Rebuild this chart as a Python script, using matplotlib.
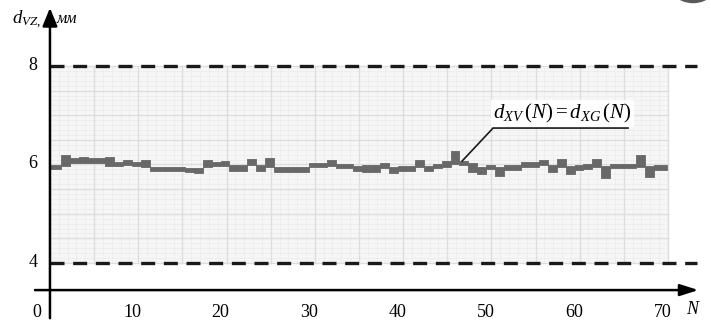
import numpy as np
import matplotlib
matplotlib.use('agg')
import matplotlib.pyplot as plt
from matplotlib.patches import Rectangle, Ellipse

plt.rcParams['font.family'] = ['Liberation Serif', 'DejaVu Serif']
plt.rcParams['mathtext.fontset'] = 'custom'
plt.rcParams['mathtext.rm'] = 'Liberation Serif'
plt.rcParams['mathtext.it'] = 'Liberation Serif:italic'

# data: band per step N (upper / lower edge, mm)
upper = [5.99, 5.99, 6.19, 6.13, 6.15, 6.13, 6.13, 6.15, 6.05, 6.09,
         6.05, 6.09, 5.95, 5.95, 5.95, 5.95, 5.93, 5.93, 6.09, 6.05,
         6.07, 5.99, 5.99, 6.11, 5.99, 6.13, 5.95, 5.95, 5.95, 5.95,
         6.03, 6.03, 6.09, 6.01, 6.01, 5.97, 5.99, 5.99, 6.03, 5.95,
         5.97, 5.97, 6.09, 5.97, 6.01, 6.07, 6.27, 6.07, 6.03, 5.95,
         5.99, 5.95, 5.99, 5.99, 6.05, 6.05, 6.09, 5.99, 6.11, 5.97,
         5.99, 6.01, 6.11, 5.97, 6.01, 6.01, 6.01, 6.19, 5.97, 5.99]
lower = [5.91, 5.91, 5.97, 6.03, 6.03, 6.03, 6.03, 5.97, 5.97, 5.99,
         5.97, 5.95, 5.87, 5.87, 5.87, 5.87, 5.85, 5.83, 5.95, 5.97,
         5.97, 5.87, 5.87, 5.99, 5.87, 5.95, 5.85, 5.85, 5.85, 5.85,
         5.95, 5.95, 5.97, 5.93, 5.93, 5.87, 5.85, 5.85, 5.93, 5.83,
         5.87, 5.87, 5.95, 5.87, 5.93, 5.95, 6.01, 5.99, 5.85, 5.81,
         5.91, 5.77, 5.89, 5.89, 5.95, 5.95, 5.99, 5.85, 5.95, 5.81,
         5.89, 5.91, 5.95, 5.73, 5.93, 5.93, 5.93, 5.95, 5.75, 5.89]
xticks = [10, 20, 30, 40, 50, 60, 70]
yticks = [4, 6, 8]
limits = [4, 8]

# pixel scale of the original drawing
px_x, px_y = 8.85, 49.25
x0_px, y4_px = 43.5, 263
axis_x = 0.73
axis_y = 3.45
grid_right = 70.56

fig = plt.figure(figsize=(7.11, 3.22), dpi=100)
ax = fig.add_axes([0, 0, 1, 1])
ax.set_xlim(-x0_px / px_x, (711 - x0_px) / px_x)
ax.set_ylim(4 - (322 - y4_px) / px_y, 4 + y4_px / px_y)
ax.axis('off')

# grid paper
ax.add_patch(Rectangle((axis_x, limits[0]), grid_right - axis_x, limits[1] - limits[0],
                       facecolor='#f6f6f6', edgecolor='none', zorder=0))
for x in np.linspace(axis_x, grid_right, 71):
    ax.plot([x, x], limits, color='#ededed', lw=0.6, zorder=1)
for y in np.linspace(limits[0], limits[1], 41):
    ax.plot([axis_x, grid_right], [y, y], color='#ededed', lw=0.6, zorder=1)
for x in np.linspace(axis_x, grid_right, 15):
    ax.plot([x, x], limits, color='#dedede', lw=1.0, zorder=1)
for y in np.linspace(limits[0], limits[1], 9):
    ax.plot([axis_x, grid_right], [y, y], color='#dedede', lw=1.0, zorder=1)

# data band
edges = np.arange(0, len(upper) + 1, dtype=float)
edges[0] = axis_x
edges[-1] = 70.4
up = np.r_[upper, upper[-1]]
lo = np.r_[lower, lower[-1]]
ax.fill_between(edges, lo, up, step='post', color='#686868', lw=0.6,
                edgecolor='#686868', zorder=3)

# limit lines
for lim in limits:
    ax.plot([axis_x, 73.8], [lim, lim], color='#1a1a1a', lw=2.4,
            dashes=(4.2, 2.6), zorder=4)

# axes with arrows
ax.annotate('', xy=(74.0, axis_y), xytext=(-0.96, axis_y),
            arrowprops=dict(arrowstyle='-|>,head_length=1.1,head_width=0.35',
                            color='black', lw=1.8, shrinkA=0, shrinkB=0), zorder=5)
ax.annotate('', xy=(axis_x, 9.18), xytext=(axis_x, 2.88),
            arrowprops=dict(arrowstyle='-|>,head_length=1.1,head_width=0.45',
                            color='black', lw=1.8, shrinkA=0, shrinkB=0), zorder=5)

# tick labels
fs = 13
for t in xticks:
    ax.text(t, 3.0, str(t), ha='center', va='center', fontsize=fs)
ax.text(-0.7, 3.0, '0', ha='center', va='center', fontsize=fs)
for t in yticks:
    ax.text(-1.2, t + 0.02, str(t), ha='center', va='center', fontsize=fs)
ax.text(73.3, 3.05, 'N', ha='center', va='center', fontsize=fs, style='italic')
ax.text(-3.6, 8.93, r'$d_{VZ,}$', ha='left', va='center', fontsize=13.5)
ax.text(1.45, 8.95, 'мм', ha='left', va='center', fontsize=11.5, style='italic')

# annotation
ax.plot([47.3, 50.8, 66.05], [6.07, 6.74, 6.74], color='#1a1a1a', lw=1.2, zorder=5)
ax.text(58.6, 7.04, r'$d_{XV}\,(N) = d_{XG}\,(N)$', ha='center', va='center',
        fontsize=15, zorder=6,
        bbox=dict(facecolor='white', edgecolor='none', pad=1.5))

# corner decoration
ax.add_patch(Ellipse((73.4, 9.88), 6.3, 1.14, facecolor='white',
                     edgecolor='#5a5a5a', lw=2.5, zorder=6))

fig.savefig('out.png', dpi=100)
